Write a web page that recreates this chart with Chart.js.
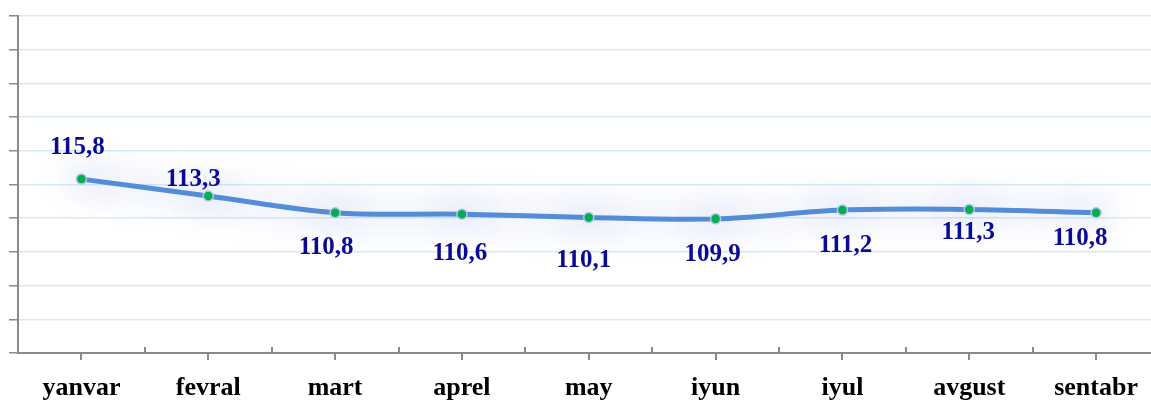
<!DOCTYPE html>
<html>
<head>
<meta charset="utf-8">
<script src="https://cdn.jsdelivr.net/npm/chart.js@4.4.1/dist/chart.umd.min.js"></script>
<style>
  html, body { margin: 0; padding: 0; background: #ffffff; overflow: hidden; }
  #wrap { position: absolute; left: 0; top: 0; width: 1166px; height: 401px; }
</style>
</head>
<body>
<div id="wrap"><canvas id="c"></canvas></div>
<script>
const categories = ['yanvar', 'fevral', 'mart', 'aprel', 'may', 'iyun', 'iyul', 'avgust', 'sentabr'];
const values = [115.8, 113.3, 110.8, 110.6, 110.1, 109.9, 111.2, 111.3, 110.8];
const labelTexts = ['115,8', '113,3', '110,8', '110,6', '110,1', '109,9', '111,2', '111,3', '110,8'];
const yMin = 90, yMax = 140, yStep = 5;

const glowPlugin = {
  id: 'glow',
  beforeDatasetDraw(chart) {
    const ctx = chart.ctx;
    ctx.save();
    ctx.shadowColor = 'rgba(80,110,230,0.5)';
    ctx.shadowBlur = 34;
  },
  afterDatasetDraw(chart) {
    chart.ctx.restore();
  }
};

const axisTicksPlugin = {
  id: 'axisTicks',
  afterDraw(chart) {
    const ctx = chart.ctx;
    const xs = chart.scales.x;
    const y0 = chart.scales.y.getPixelForValue(yMin);
    ctx.save();
    ctx.strokeStyle = '#8a8a8a';
    ctx.lineWidth = 2;
    const n = categories.length;
    const half = (xs.getPixelForValue(1) - xs.getPixelForValue(0)) / 2;
    for (let i = 0; i < n; i++) {
      const cx = Math.round(xs.getPixelForValue(i));
      ctx.beginPath();
      ctx.moveTo(cx, y0);
      ctx.lineTo(cx, y0 + 7);
      ctx.stroke();
      if (i < n - 1) {
        const bx = Math.round(xs.getPixelForValue(i) + half);
        ctx.beginPath();
        ctx.moveTo(bx, y0);
        ctx.lineTo(bx, y0 - 6);
        ctx.stroke();
      }
    }
    ctx.restore();
  }
};

const valueLabelsPlugin = {
  id: 'valueLabels',
  afterDraw(chart) {
    const offsets = [[-4,-32],[-15,-16],[-9,35],[-2,39],[-5,43],[-3,36],[3,35],[-1,23],[-16,26]];
    const ctx = chart.ctx;
    const meta = chart.getDatasetMeta(0);
    ctx.save();
    ctx.font = 'bold 25px "Liberation Serif", "Times New Roman", serif';
    ctx.fillStyle = '#0a0a95';
    ctx.textAlign = 'center';
    ctx.textBaseline = 'middle';
    meta.data.forEach((pt, i) => {
      ctx.fillText(labelTexts[i], pt.x + offsets[i][0], pt.y + offsets[i][1]);
    });
    ctx.restore();
  }
};

new Chart(document.getElementById('c'), {
  type: 'line',
  data: {
    labels: categories,
    datasets: [{
      data: values,
      borderColor: '#558ed8',
      borderWidth: 5,
      tension: 0.35,
      pointRadius: 5,
      pointBackgroundColor: '#00b050',
      pointBorderColor: '#b4c6e6',
      pointBorderWidth: 1.5,
      fill: false
    }]
  },
  options: {
    responsive: true,
    maintainAspectRatio: false,
    animation: false,
    devicePixelRatio: 1,
    layout: { padding: { top: 16, right: 4, left: 0, bottom: 0 } },
    plugins: { legend: { display: false }, tooltip: { enabled: false } },
    scales: {
      x: {
        offset: true,
        grid: { display: false, drawTicks: false },
        border: { display: true, color: '#8a8a8a', width: 2 },
        ticks: {
          color: '#000000',
          font: { family: '"Liberation Serif", "Times New Roman", serif', size: 26, weight: 'bold' },
          padding: 20,
          maxRotation: 0,
          autoSkip: false
        },
        afterFit(s) { s.height = 48; }
      },
      y: {
        min: yMin,
        max: yMax,
        ticks: { stepSize: yStep, display: false },
        grid: { color: '#d8ebf5', lineWidth: 1.5, tickLength: 9, tickColor: '#8a8a8a', drawTicks: true },
        border: { display: true, color: '#8a8a8a', width: 2 },
        afterFit(s) { s.width = 18; }
      }
    }
  },
  plugins: [glowPlugin, axisTicksPlugin, valueLabelsPlugin]
});
</script>
</body>
</html>
